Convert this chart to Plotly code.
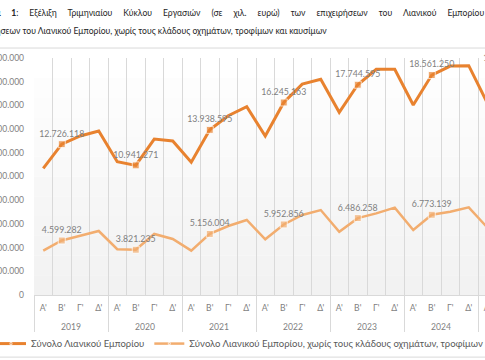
import plotly.graph_objects as go

# ---------------- data ----------------
years = ["2019"] * 4 + ["2020"] * 4 + ["2021"] * 4 + ["2022"] * 4 + ["2023"] * 4 + ["2024"] * 4 + ["2025"] * 2
quarters = ["Α'", "Β'", "Γ'", "Δ'"] * 6 + ["Α'", "Β'"]

total_retail = [10690000, 12726118, 13420000, 13840000,
                11250000, 10941271, 13160000, 13000000,
                11200000, 13938595, 15130000, 15890000,
                13420000, 16245163, 17800000, 18200000,
                15420000, 17744595, 19050000, 19050000,
                16030000, 18561250, 19320000, 19350000,
                16200000, 19080000]

retail_excl = [3740000, 4599282, 5000000, 5400000,
               3860000, 3821235, 5150000, 4730000,
               3740000, 5156004, 5820000, 6330000,
               4700000, 5952856, 6750000, 7170000,
               5340000, 6486258, 6890000, 7370000,
               5490000, 6773139, 7030000, 7400000,
               5700000, 6950000]

name_total = "Σύνολο Λιανικού Εμπορίου"
name_excl = "Σύνολο Λιανικού Εμπορίου, χωρίς τους κλάδους οχημάτων, τροφίμων και καυσίμων"
title_words_l1 = ["<b>Διάγραμμα", "1</b>:", "Εξέλιξη", "Τριμηνιαίου", "Κύκλου", "Εργασιών", "(σε", "χιλ.",
                  "ευρώ)", "των", "επιχειρήσεων", "του", "Λιανικού", "Εμπορίου", "και", "των"]
title_l2 = "επιχειρήσεων του Λιανικού Εμπορίου, χωρίς τους κλάδους οχημάτων, τροφίμων και καυσίμων"

# ---------------- helpers ----------------
def fmt(v):
    return f"{v:,}".replace(",", ".")

def labels(vals):
    return [fmt(v) if q == "Β'" else "" for v, q in zip(vals, quarters)]

def msizes():
    return [7 if q == "Β'" else 0 for q in quarters]

# justified first title line (wider word spacing)
title_l1 = (" " + "\u00a0" * 4).join(title_words_l1)

# year row sits one line lower than the quarter row
year_axis = ["<br>" + y for y in years]

DARK = "#E8822F"
LIGHT = "#F2AD6F"
FONT = "Lato, sans-serif"

fig = go.Figure()
fig.add_trace(go.Scatter(
    x=[year_axis, quarters], y=total_retail, name=name_total,
    mode="lines+markers+text",
    line=dict(color=DARK, width=3),
    marker=dict(symbol="square", size=msizes(), color=DARK),
    text=labels(total_retail), textposition="top center",
    textfont=dict(size=8.8, color="#7f7f7f", family=FONT),
    cliponaxis=False, hoverinfo="skip",
))
fig.add_trace(go.Scatter(
    x=[year_axis, quarters], y=retail_excl, name=name_excl,
    mode="lines+markers+text",
    line=dict(color=LIGHT, width=2.5),
    marker=dict(symbol="square", size=msizes(), color=LIGHT),
    text=labels(retail_excl), textposition="top center",
    textfont=dict(size=8.8, color="#7f7f7f", family=FONT),
    cliponaxis=False, hoverinfo="skip",
))

# plot-area gradient (white at top to light grey at bottom)
n = 12
shapes = []
for k in range(n):
    t = k / (n - 1)
    g = int(242 + (255 - 242) * t)
    shapes.append(dict(type="rect", xref="paper", yref="paper",
                       x0=0, x1=1, y0=k / n, y1=(k + 1) / n,
                       fillcolor=f"rgb({g},{g},{g})", line=dict(width=0), layer="below"))
# chart border
shapes.append(dict(type="rect", xref="paper", yref="paper",
                   x0=-0.135, x1=1.45, y0=-0.262, y1=1.042,
                   line=dict(color="#d9d9d9", width=1), fillcolor="rgba(0,0,0,0)", layer="below"))

fig.update_layout(
    width=800, height=360,
    margin=dict(l=84, r=235, t=58, b=65, autoexpand=False),
    paper_bgcolor="white", plot_bgcolor="white",
    separators=",.",
    font=dict(family=FONT, color="#7f7f7f", size=8.5),
    showlegend=True,
    legend=dict(orientation="h", x=1.0665, y=-0.205, xanchor="right", yanchor="middle",
                font=dict(size=9.5, color="#595959", family=FONT),
                bgcolor="rgba(0,0,0,0)", itemwidth=30, tracegroupgap=0),
    shapes=shapes,
    annotations=[
        dict(text=title_l1, xref="paper", yref="paper", x=-0.1642, y=1.19,
             xanchor="left", yanchor="middle", showarrow=False,
             font=dict(size=8.6, color="#262626", family=FONT)),
        dict(text=title_l2, xref="paper", yref="paper", x=-0.1393, y=1.114,
             xanchor="left", yanchor="middle", showarrow=False,
             font=dict(size=8.6, color="#262626", family=FONT)),
    ],
)
fig.update_xaxes(
    type="multicategory", automargin=False, tickangle=0,
    range=[-0.5, len(quarters) - 0.5], autorange=False,
    showgrid=True, gridcolor="#d9d9d9", gridwidth=1,
    showline=True, linecolor="#d9d9d9", linewidth=1,
    showdividers=True, dividercolor="#d9d9d9", dividerwidth=1,
    tickfont=dict(size=8.6, color="#7f7f7f", family=FONT),
    ticks="", ticklabelstandoff=5,
)
fig.update_yaxes(
    range=[0, 20000000], dtick=2000000, tickformat=",.0f", automargin=False,
    showgrid=False, zeroline=False, showline=False,
    tickfont=dict(size=8.5, color="#7f7f7f", family=FONT),
    ticklabelstandoff=9,
)

post = ("var gd=document.getElementById('{plot_id}');"
        "document.body.style.margin='0';document.body.style.overflow='hidden';"
        "gd.style.marginLeft='-50px';")
fig.write_html("out.html", post_script=post, config={"displayModeBar": False})
